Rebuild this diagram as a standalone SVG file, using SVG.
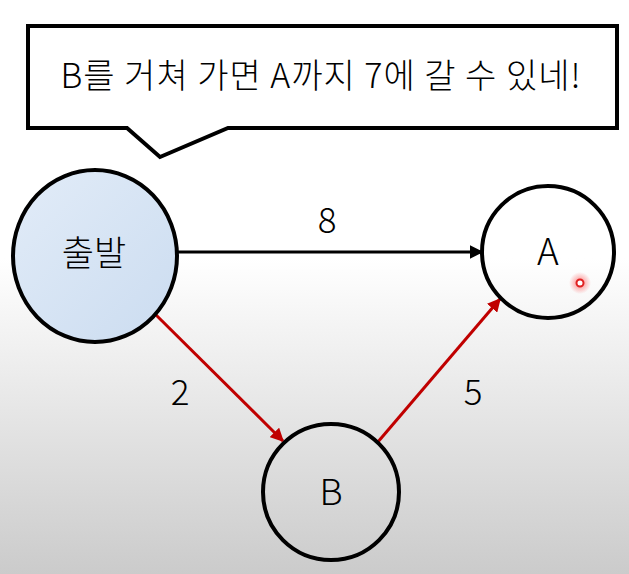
<svg xmlns="http://www.w3.org/2000/svg" width="629" height="574" viewBox="0 0 629 574">
<defs>
<linearGradient id="bg" x1="0" y1="0" x2="0" y2="1">
<stop offset="0" stop-color="#ffffff"/>
<stop offset="0.45" stop-color="#ffffff"/>
<stop offset="1" stop-color="#cbcbcb"/>
</linearGradient>
<linearGradient id="blue" x1="0" y1="0" x2="1" y2="1">
<stop offset="0" stop-color="#e2ecf8"/>
<stop offset="1" stop-color="#cbdcf0"/>
</linearGradient>
<radialGradient id="glow">
<stop offset="0" stop-color="#ff3030" stop-opacity="0.6"/>
<stop offset="1" stop-color="#ff3030" stop-opacity="0"/>
</radialGradient>
<marker id="ab" viewBox="0 0 10 10" refX="9" refY="5" markerWidth="4.5" markerHeight="4.5" orient="auto" markerUnits="strokeWidth">
<path d="M0,0 L10,5 L0,10 z" fill="#000"/>
</marker>
<marker id="ar" viewBox="0 0 10 10" refX="9" refY="5" markerWidth="4.5" markerHeight="4.5" orient="auto" markerUnits="strokeWidth">
<path d="M0,0 L10,5 L0,10 z" fill="#c00000"/>
</marker>
</defs>
<style>
.t{font-family:"Noto Sans CJK KR","Noto Sans",sans-serif;font-weight:300;fill:#000;text-anchor:middle}
.n{fill:none;stroke:#000;stroke-width:4}
.e{fill:none;stroke-width:3}
</style>
<rect width="629" height="574" fill="url(#bg)"/>
<g id="callout">
<path d="M28,26 H617 V128 H228 L160,157 L127,128 H28 Z" fill="#fff" stroke="#000" stroke-width="4" stroke-linejoin="miter"/>
<text class="t" x="321" y="88" font-size="34" letter-spacing="1">B를 거쳐 가면 A까지 7에 갈 수 있네!</text>
</g>
<g id="connectors">
<line class="e" x1="177" y1="252" x2="482" y2="252" stroke="#000" marker-end="url(#ab)"/>
<line class="e" x1="150" y1="309" x2="283" y2="441" stroke="#c00000" marker-end="url(#ar)"/>
<line class="e" x1="377" y1="443" x2="500" y2="299" stroke="#c00000" marker-end="url(#ar)"/>
<text class="t" x="327" y="233" font-size="35">8</text>
<text class="t" x="180" y="405" font-size="35">2</text>
<text class="t" x="473" y="405" font-size="35">5</text>
</g>
<g id="start">
<ellipse cx="95" cy="256" rx="82" ry="86" fill="url(#blue)" stroke="#000" stroke-width="4"/>
<text class="t" x="94" y="266" font-size="35">출발</text>
</g>
<g id="A">
<circle class="n" cx="548" cy="252" r="66" fill="#fff"/>
<text class="t" x="548" y="265" font-size="37">A</text>
</g>
<g id="B">
<circle class="n" cx="331" cy="492" r="68"/>
<text class="t" x="331" y="505" font-size="36">B</text>
</g>
<g id="pointer">
<circle cx="580" cy="283" r="11" fill="url(#glow)"/>
<circle cx="580" cy="283" r="3.5" fill="#fff" stroke="#e02020" stroke-width="2"/>
</g>
</svg>
